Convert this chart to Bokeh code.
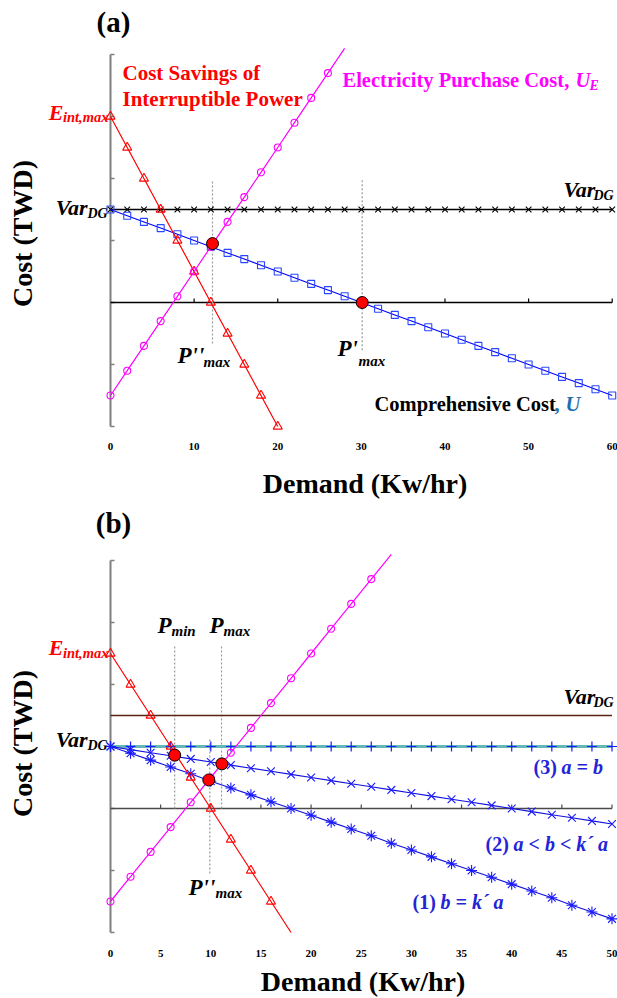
from bokeh.plotting import figure
from bokeh.layouts import column
from bokeh.models import Range1d, Label
from bokeh.core.properties import value
from bokeh.embed import file_html
from bokeh.resources import INLINE

# ---------------- panel (a) data ----------------
demand_a = [0, 2, 4, 6, 8, 10, 12, 14, 16, 18, 20, 22, 24, 26, 28, 30,
            32, 34, 36, 38, 40, 42, 44, 46, 48, 50, 52, 54, 56, 58, 60]
var_dg_a = [1.5, 1.5, 1.5, 1.5, 1.5, 1.5, 1.5, 1.5, 1.5, 1.5, 1.5, 1.5, 1.5, 1.5, 1.5, 1.5,
            1.5, 1.5, 1.5, 1.5, 1.5, 1.5, 1.5, 1.5, 1.5, 1.5, 1.5, 1.5, 1.5, 1.5, 1.5]
comprehensive_a = [1.5, 1.4, 1.3, 1.2, 1.1, 1.0, 0.9, 0.8, 0.7, 0.6, 0.5, 0.4, 0.3, 0.2, 0.1, 0.0,
                   -0.1, -0.2, -0.3, -0.4, -0.5, -0.6, -0.7, -0.8, -0.9, -1.0, -1.1, -1.2, -1.3, -1.4, -1.5]
savings_x_a = [0, 2, 4, 6, 8, 10, 12, 14, 16, 18, 20]
savings_a = [3.0, 2.5, 2.0, 1.5, 1.0, 0.5, 0.0, -0.5, -1.0, -1.5, -2.0]
purchase_x = [0, 2, 4, 6, 8, 10, 12, 14, 16, 18, 20, 22, 24, 26, 28]
purchase = [-1.5, -1.1, -0.7, -0.3, 0.1, 0.5, 0.9, 1.3, 1.7, 2.1, 2.5, 2.9, 3.3, 3.7, 4.1]
points_a_x = [12.2, 30.1]
points_a_y = [0.95, 0.0]
guides_a_x = [12.2, 30.1]
guides_a_top = [1.97, 2.0]
guides_a_bottom = [-0.66, -0.77]
xticks_a = [0, 10, 20, 30, 40, 50, 60]

# ---------------- panel (b) data ----------------
demand_b = [0, 2, 4, 6, 8, 10, 12, 14, 16, 18, 20, 22, 24, 26, 28, 30,
            32, 34, 36, 38, 40, 42, 44, 46, 48, 50]
case1_b = [1.0, 0.89, 0.78, 0.67, 0.56, 0.44, 0.33, 0.22, 0.11, 0.0, -0.11, -0.22, -0.33,
           -0.44, -0.56, -0.67, -0.78, -0.89, -1.0, -1.11, -1.22, -1.33, -1.44, -1.56, -1.67, -1.78]
case2_b = [1.0, 0.95, 0.9, 0.85, 0.8, 0.75, 0.7, 0.65, 0.6, 0.55, 0.5, 0.45, 0.4, 0.35, 0.3,
           0.25, 0.2, 0.15, 0.1, 0.05, 0.0, -0.05, -0.1, -0.15, -0.2, -0.25]
case3_b = [1.0, 1.0, 1.0, 1.0, 1.0, 1.0, 1.0, 1.0, 1.0, 1.0, 1.0, 1.0, 1.0, 1.0, 1.0,
           1.0, 1.0, 1.0, 1.0, 1.0, 1.0, 1.0, 1.0, 1.0, 1.0, 1.0]
var_dg_line_x = [0, 50]
var_dg_line_b = [1.5, 1.5]
savings_x_b = [0, 2, 4, 6, 8, 10, 12, 14, 16, 18]
savings_b = [2.5, 2.0, 1.5, 1.0, 0.5, 0.0, -0.5, -1.0, -1.5, -2.0]
points_b_x = [6.4, 11.1, 9.8]
points_b_y = [0.86, 0.72, 0.46]
guides_b_x = [6.4, 11.07, 9.9]
guides_b_top = [2.63, 2.63, 1.13]
guides_b_bottom = [0.0, 0.0, -1.05]
xticks_b = [0, 5, 10, 15, 20, 25, 30, 35, 40, 45, 50]

yticks = [-2, -1, 0, 1, 2, 3, 4]

FONT = "Liberation Serif"
W = 617
SHIFT = 0.35   # baseline correction (fraction of font size)


def make_panel(page_top, height, x0px, xscale, y0px, yscale):
    xs = (0 - x0px) / xscale
    xe = (W - x0px) / xscale
    yt = (y0px - page_top) / yscale
    yb = (y0px - page_top - height) / yscale
    p = figure(width=W, height=height, x_range=Range1d(xs, xe), y_range=Range1d(yb, yt),
               output_backend="svg", toolbar_location=None, min_border=0,
               x_axis_type=None, y_axis_type=None, outline_line_color=None,
               background_fill_color="white", border_fill_color="white")
    p.grid.visible = False

    def fx(px):
        return (px - x0px) / xscale

    def fy(py):
        return (y0px - py) / yscale

    return p, fx, fy, xscale, yscale


def put(p, fx, fy, text, px, py, size, color="black", style="bold", align="left", angle=0.0):
    if angle:
        px = px - SHIFT * size
    else:
        py = py - SHIFT * size
    p.add_layout(Label(x=fx(px), y=fy(py), text=text, text_font=FONT,
                       text_font_size=f"{size}px", text_font_style=style,
                       text_color=color, text_align=align, text_baseline="alphabetic",
                       angle=angle))


def draw_axes(p, fy, xticks, xscale, yscale, zero_color, label_py):
    n = len(yticks)
    p.segment(x0=[0], y0=[min(yticks)], x1=[0], y1=[max(yticks)], line_color="#7f7f7f", line_width=2)
    p.segment(x0=[0] * n, y0=yticks, x1=[4 / xscale] * n, y1=yticks, line_color="#7f7f7f", line_width=1.5)
    p.segment(x0=[0], y0=[0], x1=[max(xticks)], y1=[0], line_color=zero_color, line_width=1.5)
    inner = [t for t in xticks if t != 0]
    p.segment(x0=inner, y0=[0] * len(inner), x1=inner, y1=[4 / yscale] * len(inner),
              line_color=zero_color, line_width=1.2)
    p.text(x=xticks, y=[fy(label_py - SHIFT * 11)] * len(xticks), text=[str(t) for t in xticks],
           text_font=value(FONT), text_font_style="bold", text_font_size="11px",
           text_align="center", text_baseline="alphabetic", text_color="black")


# ================= panel (a) =================
pa, fxa, fya, xsa, ysa = make_panel(0, 499, 110, 8.362, 302, 62)
draw_axes(pa, fya, xticks_a, xsa, ysa, "black", 450)
pa.segment(x0=guides_a_x, y0=guides_a_bottom, x1=guides_a_x, y1=guides_a_top,
           line_color="#9a9a9a", line_width=1.2, line_dash="2 2")
pa.line(demand_a, var_dg_a, line_color="black", line_width=1.3)
pa.scatter(demand_a, var_dg_a, marker="x", size=8, line_color="black", line_width=1.1)
pa.line(demand_a, comprehensive_a, line_color="#0000ff", line_width=1.1)
pa.scatter(demand_a, comprehensive_a, marker="square", size=7, fill_color=None,
           line_color="#2848ff", line_width=1.1)
pa.line(savings_x_a, savings_a, line_color="#ff0000", line_width=1.2)
pa.scatter(savings_x_a, savings_a, marker="triangle", size=9, fill_color=None,
           line_color="#ff0000", line_width=1.1)
pa.line(purchase_x, purchase, line_color="#ff00ff", line_width=1.2)
pa.scatter(purchase_x[:-1], purchase[:-1], marker="circle", size=7, fill_color=None,
           line_color="#ff00ff", line_width=1.1)
pa.scatter(points_a_x, points_a_y, marker="circle", size=12, fill_color="#ff0000",
           line_color="black", line_width=1)

put(pa, fxa, fya, "(a)", 113, 32, 29, align="center")
put(pa, fxa, fya, "Cost Savings of", 122, 79.5, 21, color="#ff0000")
put(pa, fxa, fya, "Interruptible Power", 122, 106, 21, color="#ff0000")
put(pa, fxa, fya, "Electricity Purchase Cost,", 342, 87, 20.5, color="#ff00ff")
put(pa, fxa, fya, "U", 575, 87, 20.5, color="#ff00ff", style="bold italic")
put(pa, fxa, fya, "E", 589, 90, 14, color="#ff00ff", style="bold italic")
put(pa, fxa, fya, "E", 63, 120, 22, color="#ff0000", style="bold italic", align="right")
put(pa, fxa, fya, "int,max", 108, 122, 14.5, color="#ff0000", style="bold italic", align="right")
put(pa, fxa, fya, "Var", 87, 215, 22, style="bold italic", align="right")
put(pa, fxa, fya, "DG", 87, 218, 14, style="bold italic")
put(pa, fxa, fya, "Var", 563, 197, 22, style="bold italic")
put(pa, fxa, fya, "DG", 593, 200, 14, style="bold italic")
put(pa, fxa, fya, "P''", 177, 363, 23, style="bold italic")
put(pa, fxa, fya, "max", 203, 367, 15, style="bold italic")
put(pa, fxa, fya, "P'", 337, 356, 23, style="bold italic")
put(pa, fxa, fya, "max", 358, 366, 15, style="bold italic")
put(pa, fxa, fya, "Comprehensive Cost", 374, 411, 20.5)
put(pa, fxa, fya, ",", 554, 411, 20.5, color="#1f6fb0")
put(pa, fxa, fya, "U", 565, 411, 20.5, color="#1f6fb0", style="bold italic")
put(pa, fxa, fya, "Demand (Kw/hr)", 364.5, 493, 28, align="center")
put(pa, fxa, fya, "Cost (TWD)", 32, 233, 28, align="center", angle=1.5707963)

# ================= panel (b) =================
pb, fxb, fyb, xsb, ysb = make_panel(499, 499, 110, 10.03, 808, 62)
draw_axes(pb, fyb, xticks_b, xsb, ysb, "#4a4a4a", 957)
pb.segment(x0=guides_b_x, y0=guides_b_bottom, x1=guides_b_x, y1=guides_b_top,
           line_color="#9a9a9a", line_width=1.2, line_dash="2 2")
pb.line(var_dg_line_x, var_dg_line_b, line_color="#5a2414", line_width=1.5)
pb.line(demand_b, case3_b, line_color="#66b8b8", line_width=3)
pb.scatter(demand_b, case3_b, marker="cross", size=10, line_color="#1a1aff", line_width=1.2)
pb.line(demand_b, case2_b, line_color="#1010e0", line_width=1.1)
pb.scatter(demand_b, case2_b, marker="x", size=11, line_color="#1a1aff", line_width=1.1)
pb.line(demand_b, case1_b, line_color="#1010e0", line_width=1.1)
pb.scatter(demand_b, case1_b, marker="asterisk", size=11, line_color="#1a1aff", line_width=1.1)
pb.line(savings_x_b, savings_b, line_color="#ff0000", line_width=1.2)
pb.scatter(savings_x_b[:-1], savings_b[:-1], marker="triangle", size=9, fill_color=None,
           line_color="#ff0000", line_width=1.1)
pb.line(purchase_x, purchase, line_color="#ff00ff", line_width=1.2)
pb.scatter(purchase_x[:-1], purchase[:-1], marker="circle", size=7, fill_color=None,
           line_color="#ff00ff", line_width=1.1)
pb.scatter(points_b_x, points_b_y, marker="circle", size=12, fill_color="#ff0000",
           line_color="black", line_width=1)

BLUE = "#2323d8"
put(pb, fxb, fyb, "(b)", 113, 533, 29, align="center")
put(pb, fxb, fyb, "P", 157, 633, 23, style="bold italic")
put(pb, fxb, fyb, "min", 171, 636, 15, style="bold italic")
put(pb, fxb, fyb, "P", 209, 633, 23, style="bold italic")
put(pb, fxb, fyb, "max", 223, 636, 15, style="bold italic")
put(pb, fxb, fyb, "E", 63, 655, 22, color="#ff0000", style="bold italic", align="right")
put(pb, fxb, fyb, "int,max", 108, 658, 14.5, color="#ff0000", style="bold italic", align="right")
put(pb, fxb, fyb, "Var", 87, 747, 22, style="bold italic", align="right")
put(pb, fxb, fyb, "DG", 87, 750, 14, style="bold italic")
put(pb, fxb, fyb, "Var", 563, 704, 22, style="bold italic")
put(pb, fxb, fyb, "DG", 593, 707, 14, style="bold italic")
put(pb, fxb, fyb, "(3)", 533, 773, 20, color=BLUE)
put(pb, fxb, fyb, "a = b", 561, 773, 20, color=BLUE, style="bold italic")
put(pb, fxb, fyb, "(2)", 485, 850, 20, color=BLUE)
put(pb, fxb, fyb, "a < b < k\u00b4 a", 513, 850, 20, color=BLUE, style="bold italic")
put(pb, fxb, fyb, "(1)", 412, 908, 20, color=BLUE)
put(pb, fxb, fyb, "b = k\u00b4 a", 440, 908, 20, color=BLUE, style="bold italic")
put(pb, fxb, fyb, "P''", 188, 895, 23, style="bold italic")
put(pb, fxb, fyb, "max", 215, 898, 15, style="bold italic")
put(pb, fxb, fyb, "Demand (Kw/hr)", 362.5, 991, 28, align="center")
put(pb, fxb, fyb, "Cost (TWD)", 32, 743, 28, align="center", angle=1.5707963)

layout = column(pa, pb, spacing=0)
open("out.html", "w").write(file_html(layout, INLINE))
